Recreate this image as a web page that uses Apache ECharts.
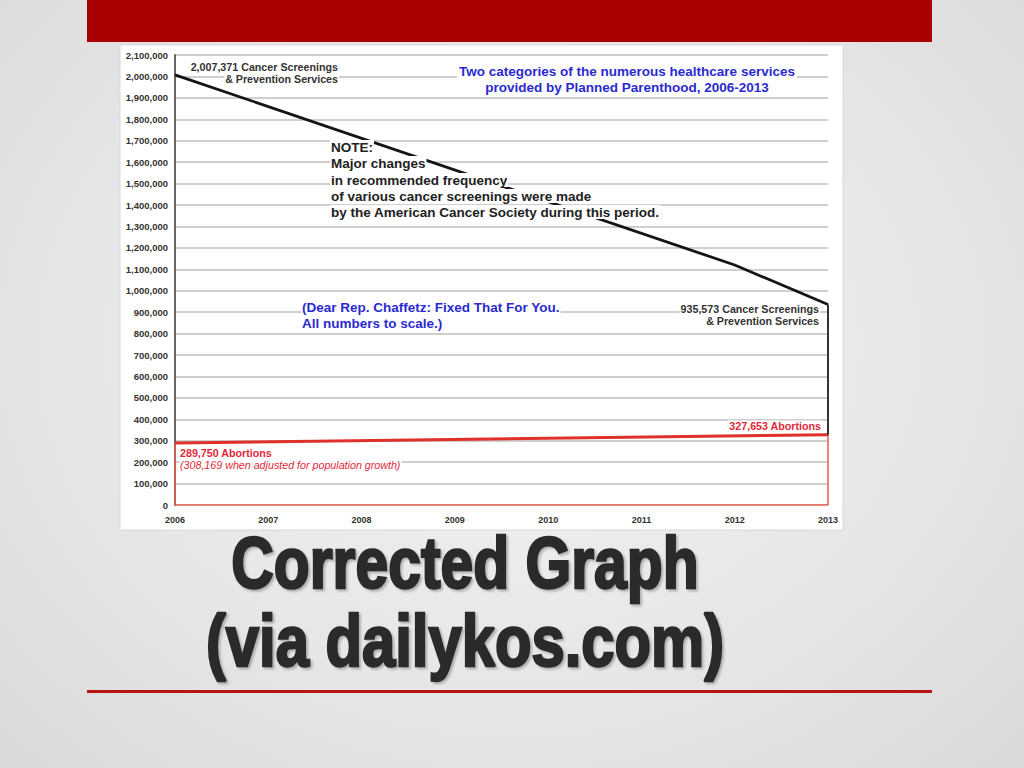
<!DOCTYPE html>
<html>
<head>
<meta charset="utf-8">
<title>Corrected Graph</title>
<script src="https://cdn.jsdelivr.net/npm/echarts@6/dist/echarts.min.js"></script>
<style>
  html, body { margin: 0; padding: 0; }
  body {
    width: 1024px; height: 768px; overflow: hidden;
    background: radial-gradient(ellipse at 50% 45%, #f3f3f3 0%, #e6e6e6 60%, #d9d9d9 100%);
  }
  #chart { width: 1024px; height: 768px; }
</style>
</head>
<body>
<div id="chart"></div>
<script>
// data
const years = [2006, 2007, 2008, 2009, 2010, 2011, 2012, 2013];
const yTicks = [0, 100000, 200000, 300000, 400000, 500000, 600000, 700000, 800000, 900000, 1000000,
  1100000, 1200000, 1300000, 1400000, 1500000, 1600000, 1700000, 1800000, 1900000, 2000000, 2100000];
const cancerYears = [2006, 2012, 2013];
const cancerValues = [2007371, 1120000, 935573];
const abortionYears = [2006, 2013];
const abortionValues = [289750, 327653];

const chartEl = document.getElementById('chart');
const chart = echarts.init(chartEl, null, { renderer: 'svg' });

const cancerLine = cancerYears.map((y, i) => [y, cancerValues[i]]);
const abortionLine = abortionYears.map((y, i) => [y, abortionValues[i]]);
const lastYear = years[years.length - 1];
const firstYear = years[0];
// right-hand drop of the black line down to the red one
const cancerDrop = [
  [lastYear, cancerValues[cancerValues.length - 1]],
  [lastYear, abortionValues[abortionValues.length - 1]]
];
// thin red box under the abortion line
const abortionBox = [
  [firstYear, abortionValues[0]],
  [firstYear, 0],
  [lastYear, 0],
  [lastYear, abortionValues[abortionValues.length - 1]]
];

const fmt = v => v.toLocaleString('en-US');
const FONT = '"Liberation Sans", Arial, sans-serif';
const note = (text, x, y, opts = {}) => ({
  type: 'text',
  z: 100,
  style: Object.assign({
    text, x, y,
    fill: '#222',
    font: 'bold 13.5px ' + FONT,
    textAlign: 'left',
    textVerticalAlign: 'middle',
    backgroundColor: '#fff',
    padding: [0, 1]
  }, opts)
});
const small = 'bold 10.7px ' + FONT;
const blue = '#2a2ad0';
const red = '#e2283a';

const title = (text, y, sx) => ({
  type: 'text', z: 50, x: 465, y, scaleX: sx,
  style: {
    text, x: 0, y: 0, textAlign: 'center', textVerticalAlign: 'middle',
    font: 'bold 72px ' + FONT, fill: '#2a2a2a',
    stroke: '#2a2a2a', lineWidth: 2.5,
    textShadowColor: 'rgba(0,0,0,0.25)', textShadowOffsetX: 2, textShadowOffsetY: 2, textShadowBlur: 2
  }
});

chart.setOption({
  animation: false,
  grid: { left: 175, right: 196, top: 55, bottom: 263 },
  xAxis: {
    type: 'value',
    min: firstYear,
    max: lastYear,
    interval: 1,
    axisLine: { show: false },
    axisTick: { show: false },
    splitLine: { show: false },
    axisLabel: {
      margin: 10,
      color: '#333',
      fontFamily: FONT,
      fontWeight: 'bold',
      fontSize: 9,
      formatter: v => String(v)
    }
  },
  yAxis: {
    type: 'value',
    min: yTicks[0],
    max: yTicks[yTicks.length - 1],
    interval: yTicks[1] - yTicks[0],
    axisLine: { show: true, lineStyle: { color: '#666', width: 2 } },
    axisTick: { show: false },
    splitLine: { show: true, lineStyle: { color: '#cfcfcf', width: 2 } },
    axisLabel: {
      margin: 7,
      color: '#333',
      fontFamily: FONT,
      fontWeight: 'bold',
      fontSize: 9.5,
      formatter: fmt
    }
  },
  series: [
    {
      name: 'Abortion box', type: 'line', data: abortionBox,
      symbol: 'none', z: 3,
      lineStyle: { color: '#ee5a4a', width: 1.5 }
    },
    {
      name: 'Abortions', type: 'line', data: abortionLine,
      symbol: 'none', z: 4,
      lineStyle: { color: '#e0302a', width: 3 }
    },
    {
      name: 'Cancer drop', type: 'line', data: cancerDrop,
      symbol: 'none', z: 4,
      lineStyle: { color: '#333', width: 2 }
    },
    {
      name: 'Cancer Screenings & Prevention Services', type: 'line', data: cancerLine,
      symbol: 'none', z: 4,
      lineStyle: { color: '#151515', width: 2.8 }
    }
  ],
  graphic: [
    // slide top bar, chart panel and bottom rule
    { type: 'rect', z: -10, shape: { x: 87, y: 0, width: 845, height: 42 }, style: { fill: '#a80000' } },
    { type: 'rect', z: -10, shape: { x: 120, y: 45, width: 723, height: 485 },
      style: { fill: '#fff', stroke: '#d8d8d8', lineWidth: 1 } },
    { type: 'rect', z: -10, shape: { x: 87, y: 690, width: 845, height: 3 }, style: { fill: '#b51515' } },

    // annotations
    note('2,007,371 Cancer Screenings', 339, 67, { font: small, textAlign: 'right', fill: '#333' }),
    note('& Prevention Services', 339, 79, { font: small, textAlign: 'right', fill: '#333' }),
    note('Two categories of the numerous healthcare services', 627, 71, { textAlign: 'center', fill: blue, padding: [0, 2] }),
    note('provided by Planned Parenthood, 2006-2013', 627, 87, { textAlign: 'center', fill: blue, padding: [0, 2] }),
    note('NOTE:', 330, 147),
    note('Major changes', 330, 163),
    note('in recommended frequency', 330, 180),
    note('of various cancer screenings were made', 330, 196),
    note('by the American Cancer Society during this period.', 330, 212),
    note('(Dear Rep. Chaffetz: Fixed That For You.', 301, 307, { fill: blue }),
    note('All numbers to scale.)', 301, 323, { fill: blue }),
    note('935,573 Cancer Screenings', 820, 309, { font: small, textAlign: 'right', fill: '#333' }),
    note('& Prevention Services', 820, 321, { font: small, textAlign: 'right', fill: '#333' }),
    note('327,653 Abortions', 822, 426, { font: small, textAlign: 'right', fill: red }),
    note('289,750 Abortions', 179, 453, { font: small, fill: red }),
    note('(308,169 when adjusted for population growth)', 179, 465,
      { font: 'italic 10.7px ' + FONT, fill: red }),

    // slide title
    title('Corrected Graph', 563, 0.817),
    title('(via dailykos.com)', 641, 0.83)
  ]
});
</script>
</body>
</html>
